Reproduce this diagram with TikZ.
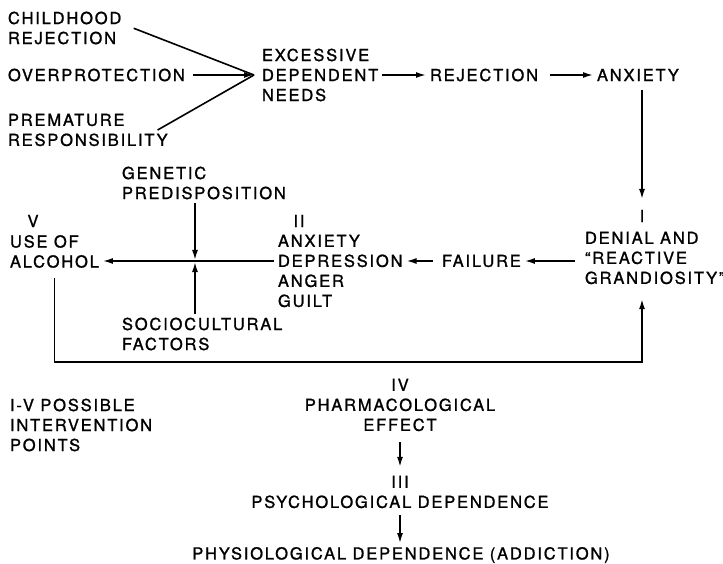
\documentclass[tikz,border=0pt]{standalone}
\usepackage{fontspec}
\setmainfont{TeX Gyre Heros}[LetterSpace=11, FakeBold=1.2]
\usetikzlibrary{arrows.meta}
\usetikzlibrary{positioning}

\begin{document}
\begin{tikzpicture}[
    x=1pt, y=-1pt,
    >={Latex[length=10pt,width=6pt]},
    every node/.style={font=\fontsize{16.5}{20}\selectfont, inner sep=0pt, outer sep=4pt},
    label/.style={anchor=west, align=left},
    numeral/.style={anchor=center},
    centred/.style={anchor=center, align=center},
    flow/.style={line width=1.6pt}
]
\useasboundingbox (0,0) rectangle (723,564);

% Nodes
\node[label] (childrej) at (4,28) {CHILDHOOD\\REJECTION};
\node[label] (overprot) at (4,75) {OVERPROTECTION};
\node[label] (premat) at (4,130) {PREMATURE\\RESPONSIBILITY};
\coordinate (join) at (254,75);
\node[label] (excess) at (258,75) {EXCESSIVE\\DEPENDENT\\NEEDS};
\node[label] (rejection) at (426,75) {REJECTION};
\node[label] (anxiety) at (593,75) {ANXIETY};

\node[numeral] (numI) at (642,216) {I};
\node[label] (denial) at (581,258) {DENIAL AND\\``REACTIVE\\GRANDIOSITY''};
\node[label] (failure) at (438,261) {FAILURE};
\node[numeral] (numII) at (299,221) {II};
\node[label] (moods) at (274,271) {ANXIETY\\DEPRESSION\\ANGER\\GUILT};
\node[numeral] (numV) at (33,221) {V};
\node[label] (alcohol) at (6,251.5) {USE OF\\ALCOHOL};
\node[label] (genetic) at (118,183) {GENETIC\\PREDISPOSITION};
\node[label] (socio) at (118,334) {SOCIOCULTURAL\\FACTORS};
\coordinate (cross) at (195,261);
\coordinate (loopy) at (0,362);

\node[label] (points) at (6,425) {I-V POSSIBLE\\INTERVENTION\\POINTS};
\node[centred] (pharm) at (400,405) {IV\\PHARMACOLOGICAL\\EFFECT};
\node[centred] (psych) at (400,492) {III\\PSYCHOLOGICAL DEPENDENCE};
\node[centred] (addict) at (401,555) {PHYSIOLOGICAL DEPENDENCE (ADDICTION)};

% Edges
\draw[flow, shorten <=9pt] ([yshift=3pt]childrej.east) -- (join);
\draw[flow, ->, shorten <=4pt] (overprot.east) -- (join);
\draw[flow] ([xshift=-14pt]premat.east) -- (join);
\draw[flow, ->] (excess.east) -- (rejection.west);
\draw[flow, ->, shorten <=8pt] (rejection.east) -- (anxiety.west);
\draw[flow, ->, shorten <=5pt, shorten >=7pt] (anxiety.south -| numI) -- (numI.north);
\draw[flow, ->, shorten <=6pt] (denial.west |- failure.east) -- (failure.east);
\draw[flow, ->, shorten <=5pt] (failure.west) -- (failure.west -| moods.east);
\draw[flow, ->] (failure.west -| moods.west) -- (failure.west -| alcohol.east);
\draw[flow, ->, shorten >=1pt] (genetic.south -| cross) -- (cross);
\draw[flow, ->, shorten >=1pt] (socio.north -| cross) -- (cross);
\draw[flow, ->, shorten <=6pt, shorten >=11pt] (alcohol.south) -- (alcohol.south |- loopy) -| (numI |- denial.south);
\draw[flow, ->, shorten <=7pt, shorten >=5pt] (pharm.south) -- (pharm.south |- psych.north);
\draw[flow, ->, shorten <=3pt] (psych.south -| pharm.south) -- (pharm.south |- addict.north);

\end{tikzpicture}
\end{document}
